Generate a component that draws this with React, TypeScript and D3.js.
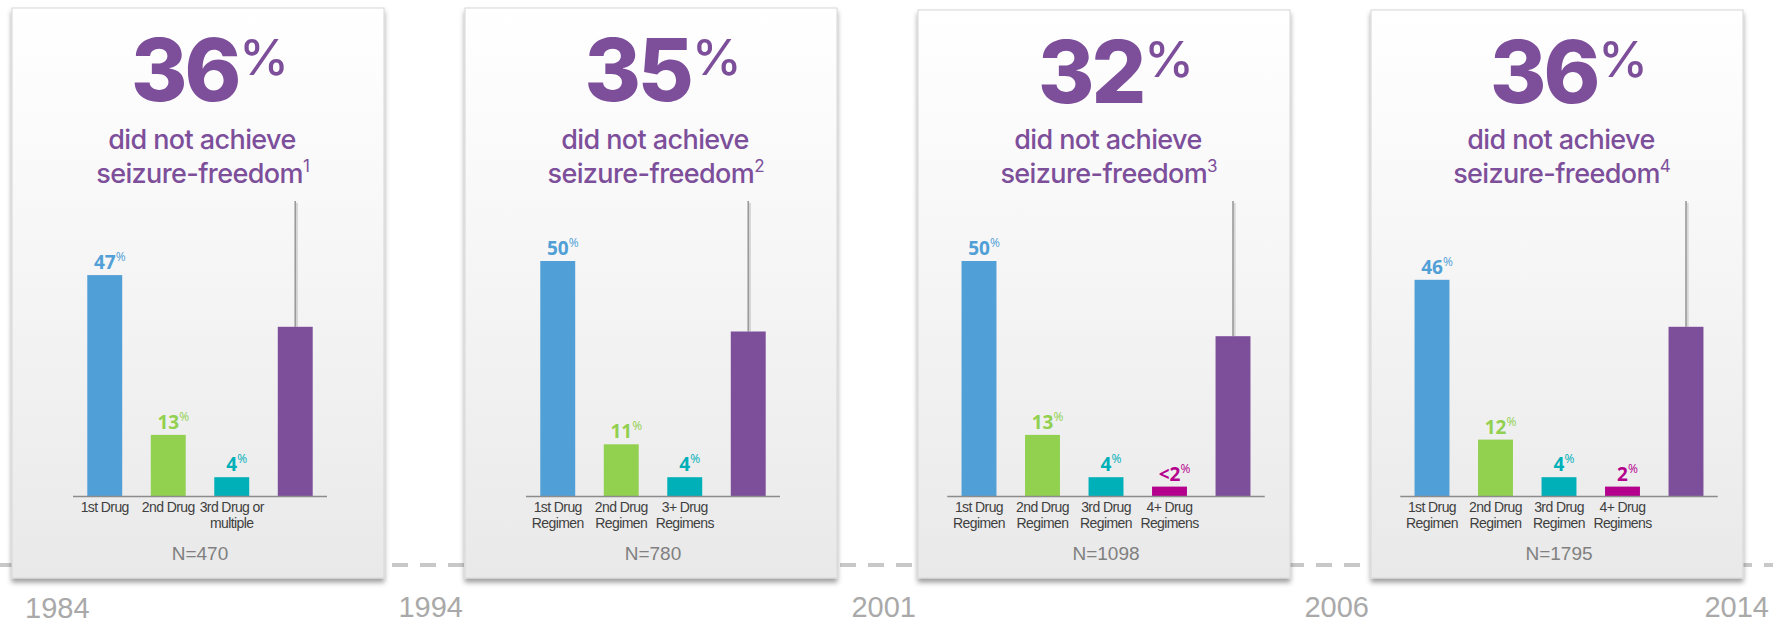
import React, { useEffect } from "react";
import * as d3 from "d3";

// ---------- data ----------
const years = ["1984", "1994", "2001", "2006", "2014"];
const headlinePct = [36, 35, 32, 36];
const footnotes = ["1", "2", "3", "4"];
const sampleSizes = ["N=470", "N=780", "N=1098", "N=1795"];

const categories1 = ["1st Drug", "2nd Drug", "3rd Drug or|multiple"];
const categories2 = ["1st Drug|Regimen", "2nd Drug|Regimen", "3+ Drug|Regimens"];
const categories3 = ["1st Drug|Regimen", "2nd Drug|Regimen", "3rd Drug|Regimen", "4+ Drug|Regimens"];
const categories4 = ["1st Drug|Regimen", "2nd Drug|Regimen", "3rd Drug|Regimen", "4+ Drug|Regimens"];

const values1 = [47, 13, 4];
const values2 = [50, 11, 4];
const values3 = [50, 13, 4, 2];
const values4 = [46, 12, 4, 2];

const labels1 = ["47", "13", "4"];
const labels2 = ["50", "11", "4"];
const labels3 = ["50", "13", "4", "<2"];
const labels4 = ["46", "12", "4", "2"];

// height of the purple "not seizure-free" bar in each panel
const notFreeBar = [36, 35, 34, 36];

const barColors = ["#519fd7", "#92d050", "#00b0b9", "#b5008d"];
const purple = "#7d4f9b";

const panels = [
  { cats: categories1, vals: values1, labels: labels1 },
  { cats: categories2, vals: values2, labels: labels2 },
  { cats: categories3, vals: values3, labels: labels3 },
  { cats: categories4, vals: values4, labels: labels4 },
];

// ---------- layout ----------
const W = 1773;
const H = 624;
const PANEL_W = 372;
const PANEL_STEP = 453;
const PANEL_X0 = 12;
const PANEL_BOTTOM = 578;
const BASE_Y = 496;
const LINE_TOP = 201;
const TIMELINE_Y = 565;

const SANS = "'Liberation Sans', Arial, Helvetica, sans-serif";
const HEAD = "Inter, 'Liberation Sans', Arial, sans-serif";
const LABEL = "'Open Sans', 'Liberation Sans', sans-serif";

const y = d3.scaleLinear().domain([0, 100]).range([BASE_Y, 26]);

export default function App() {
  useEffect(() => {
    document.body.style.margin = "0";
  }, []);

  return (
    <svg
      width={W}
      height={H}
      viewBox={`0 0 ${W} ${H}`}
      style={{ position: "absolute", left: 0, top: 0, display: "block", background: "#fff" }}
    >
      <defs>
        <linearGradient id="panelGrad" x1="0" y1="0" x2="0" y2="1">
          <stop offset="0" stopColor="#ffffff" />
          <stop offset="0.3" stopColor="#f9f9f9" />
          <stop offset="1" stopColor="#e9e9e9" />
        </linearGradient>
        <filter id="shadow" x="-5%" y="-5%" width="110%" height="112%">
          <feDropShadow dx="0" dy="4" stdDeviation="2.5" floodColor="#000" floodOpacity="0.38" />
        </filter>
      </defs>

      {/* timeline */}
      <line
        x1={0}
        x2={W}
        y1={TIMELINE_Y}
        y2={TIMELINE_Y}
        stroke="#c8c8c8"
        strokeWidth={4}
        strokeDasharray="16 12"
      />

      {years.map((yr, i) => {
        let x: number;
        let anchor: string;
        if (i === 0) {
          x = 25;
          anchor = "start";
        } else if (i === years.length - 1) {
          x = 1769;
          anchor = "end";
        } else {
          x = PANEL_X0 + PANEL_STEP * i - 2;
          anchor = "end";
        }
        return (
          <text
            key={yr}
            x={x}
            y={i === 0 ? 618 : 617}
            textAnchor={anchor}
            fontFamily={SANS}
            fontSize={29}
            fill="#a9a9a9"
          >
            {yr}
          </text>
        );
      })}

      {panels.map((p, pi) => {
        const left = PANEL_X0 + PANEL_STEP * pi;
        const top = pi < 2 ? 8 : 10;
        const cx = left + PANEL_W / 2;
        const n = p.vals.length + 1;
        const half = (n * 63.5) / 2;
        const x = d3
          .scaleBand<number>()
          .domain(d3.range(n))
          .range([cx + 2 - half, cx + 2 + half])
          .paddingInner(0.45)
          .paddingOuter(0.225);
        const bw = x.bandwidth();
        const purpleX = x(n - 1)!;
        const purpleCx = purpleX + bw / 2;
        return (
          <g key={pi}>
            <rect
              x={left}
              y={top}
              width={PANEL_W}
              height={PANEL_BOTTOM - top}
              fill="url(#panelGrad)"
              stroke="#d6d6d6"
              strokeWidth={1}
              filter="url(#shadow)"
            />
            {/* headline */}
            <text
              x={cx + 12}
              y={top + 93}
              textAnchor="middle"
              fill={purple}
              fontFamily={HEAD}
              fontWeight={800}
              fontSize={86}
              letterSpacing={-3}
            >
              {headlinePct[pi]}
              <tspan fontSize={50} fontWeight={500} dy={-26} dx={1} letterSpacing={0}>
                %
              </tspan>
            </text>
            <text
              x={cx + 4}
              y={149}
              textAnchor="middle"
              fill={purple}
              fontFamily={HEAD}
              fontWeight={500}
              fontSize={27}
              letterSpacing={-0.6}
            >
              did not achieve
            </text>
            <text
              x={cx + 5}
              y={183}
              textAnchor="middle"
              fill={purple}
              fontFamily={HEAD}
              fontWeight={500}
              fontSize={27}
              letterSpacing={-0.6}
            >
              seizure-freedom
              <tspan fontSize={17} fontWeight={400} dy={-11} letterSpacing={0}>
                {footnotes[pi]}
              </tspan>
            </text>

            {/* connector line to purple bar */}
            <line
              x1={purpleCx + 1.5}
              x2={purpleCx + 1.5}
              y1={LINE_TOP + 2}
              y2={y(notFreeBar[pi])}
              stroke="#000"
              strokeOpacity={0.12}
              strokeWidth={2.5}
            />
            <line
              x1={purpleCx}
              x2={purpleCx}
              y1={LINE_TOP}
              y2={y(notFreeBar[pi])}
              stroke="#9a9a9a"
              strokeWidth={1.6}
            />

            {/* bars */}
            {p.vals.map((v, i) => (
              <g key={i}>
                <rect
                  x={x(i)}
                  y={y(v)}
                  width={bw}
                  height={BASE_Y - y(v)}
                  fill={barColors[i]}
                />
                <text
                  x={x(i)! + bw / 2 + 5}
                  y={y(v) - 6}
                  textAnchor="middle"
                  fill={barColors[i]}
                  fontFamily={LABEL}
                  fontWeight={700}
                  fontSize={19}
                >
                  {p.labels[i]}
                  <tspan fontSize={12} fontWeight={400} dy={-8}>
                    %
                  </tspan>
                </text>
                {p.cats[i].split("|").map((line, li) => (
                  <text
                    key={li}
                    x={x(i)! + bw / 2}
                    y={512 + li * 16}
                    textAnchor="middle"
                    fill="#3f3f3f"
                    fontFamily={SANS}
                    fontSize={14}
                    letterSpacing={-0.6}
                  >
                    {line}
                  </text>
                ))}
              </g>
            ))}
            <rect
              x={purpleX}
              y={y(notFreeBar[pi])}
              width={bw}
              height={BASE_Y - y(notFreeBar[pi])}
              fill={purple}
            />

            {/* axis */}
            <line
              x1={x.range()[0]}
              x2={x.range()[1]}
              y1={BASE_Y + 0.5}
              y2={BASE_Y + 0.5}
              stroke="#8c8c8c"
              strokeWidth={1.6}
            />

            <text
              x={cx + 2}
              y={560}
              textAnchor="middle"
              fill="#808080"
              fontFamily={SANS}
              fontSize={19}
            >
              {sampleSizes[pi]}
            </text>
          </g>
        );
      })}
    </svg>
  );
}
